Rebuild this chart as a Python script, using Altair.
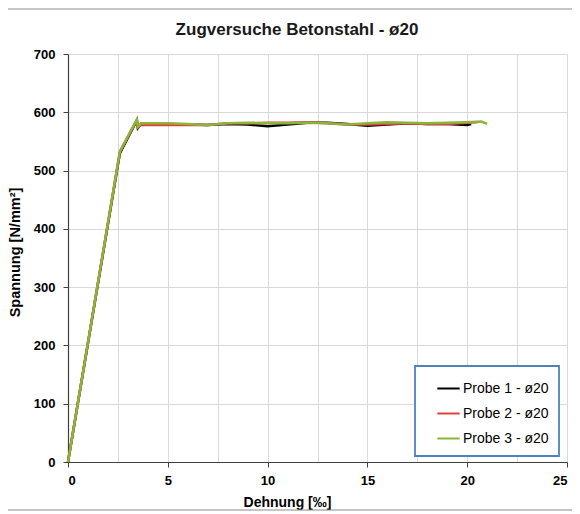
import altair as alt
import pandas as pd

# Probe 1 (black)
p1_x = [0, 2.6, 3.3, 3.45, 3.5, 3.65, 5, 6, 7, 8, 9, 10, 11, 12, 13, 14, 15, 16, 17, 18, 19, 20, 20.2]
p1_y = [0, 530, 576, 586, 573, 580, 580, 579, 578, 580, 579, 576, 579, 582, 582, 580, 577, 579, 581, 580, 580, 578, 580]
# Probe 2 (red)
p2_x = [0, 2.6, 3.3, 3.45, 3.5, 3.65, 5, 6, 7, 8, 9, 10, 11, 12, 13, 14, 15, 16, 17, 18, 19, 20, 20.5]
p2_y = [0, 532, 577, 585, 574, 578, 578, 578, 578, 581, 581, 582, 582, 583, 581, 579, 579, 580, 581, 580, 580, 582, 583]
# Probe 3 (green)
p3_x = [0, 2.6, 3.3, 3.45, 3.5, 3.65, 5, 6, 7, 8, 9, 10, 11, 12, 13, 14, 15, 16, 17, 18, 19, 20, 20.7, 21.0]
p3_y = [0, 533, 578, 588, 575, 581, 581, 580, 578, 581, 582, 581, 581, 582, 581, 579, 581, 583, 582, 581, 582, 583, 584, 580]

series = ["Probe 1 - ø20", "Probe 2 - ø20", "Probe 3 - ø20"]
colors = ["#000000", "#e0413a", "#8bb43b"]
title_text = "Zugversuche Betonstahl - ø20"

rows = []
for name, xs, ys in zip(series, [p1_x, p2_x, p3_x], [p1_y, p2_y, p3_y]):
    for i, (x, y) in enumerate(zip(xs, ys)):
        rows.append({"Probe": name, "x": x, "y": y, "order": i})
df = pd.DataFrame(rows)

x_grid = [i * 2.5 for i in range(11)]
y_ticks = list(range(0, 701, 100))

font = "Liberation Sans"

frame = alt.Chart(pd.DataFrame({"a": [0]})).mark_rect(
    fill="white", fillOpacity=0, stroke="#8c8c8c", strokeWidth=1.2
).encode(x=alt.value(-61), x2=alt.value(530), y=alt.value(-45), y2=alt.value(456))

title = alt.Chart(pd.DataFrame({"t": [title_text]})).mark_text(
    font=font, fontSize=17, fontWeight="bold", color="#1a1a1a",
    align="center", baseline="middle"
).encode(text="t:N", x=alt.value(229), y=alt.value(-24))

lines = alt.Chart(df).mark_line(strokeWidth=2.5).encode(
    x=alt.X("x:Q", scale=alt.Scale(domain=[0, 25], nice=False),
            axis=alt.Axis(values=x_grid, title="Dehnung [‰]",
                          labelExpr="datum.value % 5 === 0 ? datum.label : ''",
                          tickColor={"condition": {"test": "datum.value % 5 === 0", "value": "#404040"}, "value": "transparent"},
                          labelPadding=7, titlePadding=8, titleX=219, titleFontSize=14)),
    y=alt.Y("y:Q", scale=alt.Scale(domain=[0, 700], nice=False),
            axis=alt.Axis(values=y_ticks, title="Spannung [N/mm²]", labelPadding=8, titlePadding=11,
                          titleY=198, titleFontSize=14.5)),
    color=alt.Color("Probe:N", scale=alt.Scale(domain=series, range=colors),
                    legend=alt.Legend(title=None, orient="none", legendX=347, legendY=312,
                                      symbolType="stroke", symbolSize=500, symbolStrokeWidth=2,
                                      labelFontSize=14, labelFont=font, labelColor="#000",
                                      rowPadding=5, padding=10, labelOffset=2, symbolOffset=11,
                                      strokeColor="#4f81bd", fillColor="white")),
    order="order:Q",
)

chart = alt.layer(frame, title, lines).properties(
    width=499, height=408,
    autosize=alt.AutoSizeParams(type="none"),
    padding={"left": 60, "top": 46, "right": 5, "bottom": 60},
).configure_axis(
    labelFont=font, titleFont=font, labelFontSize=13, titleFontSize=13,
    labelFontWeight="bold", titleFontWeight="bold", labelColor="#000", titleColor="#000",
    gridColor="#d9d9d9", gridWidth=1, domainColor="#404040", domainWidth=1.2,
    tickSize=5, tickColor="#404040",
).configure_view(stroke=None).configure_legend(
    strokeWidth=1.8, cornerRadius=0
)

chart.save("out.html", embed_options={"renderer": "svg", "actions": False})
